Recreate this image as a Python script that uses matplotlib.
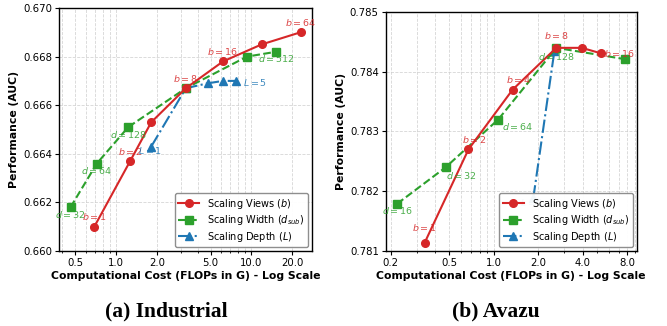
import matplotlib
matplotlib.use("Agg")
import matplotlib.pyplot as plt
from matplotlib.ticker import FixedLocator, FixedFormatter, NullFormatter

# ---------------- data ----------------
ind_views_flops = [0.69, 1.27, 1.82, 3.28, 6.17, 11.9, 23.1]
ind_views_auc = [0.6610, 0.6637, 0.6653, 0.6667, 0.6678, 0.6685, 0.6690]
ind_views_labels = ["$b=1$", "$b=2$", "", "$b=8$", "$b=16$", "", "$b=64$"]

ind_width_flops = [0.46, 0.72, 1.23, 3.28, 9.29, 15.3]
ind_width_auc = [0.6618, 0.6636, 0.6651, 0.6667, 0.6680, 0.6682]
ind_width_labels = ["$d=32$", "$d=64$", "$d=128$", "", "", "$d=512$"]

ind_depth_flops = [1.82, 3.28, 4.75, 6.17, 7.65]
ind_depth_auc = [0.6643, 0.6667, 0.6669, 0.6670, 0.6670]
ind_depth_labels = ["$L=1$", "", "", "", "$L=5$"]

ava_views_flops = [0.34, 0.673, 1.34, 2.65, 3.95, 5.29]
ava_views_auc = [0.78114, 0.7827, 0.7837, 0.7844, 0.7844, 0.78431]
ava_views_labels = ["$b=1$", "$b=2$", "$b=4$", "$b=8$", "", "$b=16$"]

ava_width_flops = [0.221, 0.471, 1.07, 2.65, 7.78]
ava_width_auc = [0.78179, 0.7824, 0.7832, 0.7844, 0.78421]
ava_width_labels = ["$d=16$", "$d=32$", "$d=64$", "$d=128$", ""]

ava_depth_flops = [1.85, 2.57]
ava_depth_auc = [0.78188, 0.78434]
ava_depth_labels = ["$L=1$", ""]

ind_xticks = [0.5, 1, 2, 5, 10, 20]
ind_xticklabels = ["0.5", "1.0", "2.0", "5.0", "10.0", "20.0"]
ind_yticks = [0.660, 0.662, 0.664, 0.666, 0.668, 0.670]
ava_xticks = [0.2, 0.5, 1, 2, 4, 8]
ava_xticklabels = ["0.2", "0.5", "1.0", "2.0", "4.0", "8.0"]
ava_yticks = [0.781, 0.782, 0.783, 0.784, 0.785]

# label offsets in pixels (style, not data)
ind_views_off = [(0, 10)] * 7
ind_width_off = [(0, -7)] * 6
ind_depth_off = [(-1, -4), (0, 0), (0, 0), (0, 0), (19, -2)]
ava_views_off = [(0, 15), (6, 10), (6, 10), (0, 12), (0, 0), (19, 0)]
ava_width_off = [(0, -7), (16, -8), (19, -7), (0, -9), (0, 0)]
ava_depth_off = [(-1, -4), (0, 0)]

RED = "#d62728"
GREEN = "#2ca02c"
BLUE = "#1f77b4"

DPI = 100
fig = plt.figure(figsize=(6.67, 3.26), dpi=DPI)
ax1 = fig.add_axes([59 / 667, 75 / 326, 253 / 667, 243 / 326])
ax2 = fig.add_axes([385.7 / 667, 75 / 326, 251 / 667, 239 / 326])

px2pt = 72.0 / DPI


def annotate(ax, xs, ys, labels, offs, color, z):
    for x, y, t, (dx, dy) in zip(xs, ys, labels, offs):
        if not t:
            continue
        ax.annotate(t, (x, y), xytext=(dx * px2pt, dy * px2pt),
                    textcoords="offset points", ha="center", va="center",
                    fontsize=6.8, color=color, alpha=0.85, zorder=z)


def panel(ax, data, xticks, xticklabels, yticks):
    (vf, va_, vl, vo), (wf, wa, wl, wo), (df, da, dl, do) = data
    ax.plot(vf, va_, "-o", color=RED, lw=1.5, ms=5.5, zorder=5,
            label="Scaling Views ($b$)")
    ax.plot(wf, wa, "--s", color=GREEN, lw=1.5, ms=5.5, zorder=4,
            label="Scaling Width ($d_{sub}$)")
    ax.plot(df, da, "-.^", color=BLUE, lw=1.5, ms=5.5, zorder=3,
            label="Scaling Depth ($L$)")
    annotate(ax, vf, va_, vl, vo, RED, 6)
    annotate(ax, wf, wa, wl, wo, GREEN, 6)
    annotate(ax, df, da, dl, do, BLUE, 6)
    ax.set_xscale("log")
    ax.xaxis.set_major_locator(FixedLocator(xticks))
    ax.xaxis.set_major_formatter(FixedFormatter(xticklabels))
    ax.xaxis.set_minor_formatter(NullFormatter())
    ax.set_yticks(yticks)
    ax.set_yticklabels([f"{v:.3f}" for v in yticks])
    ax.set_ylim(yticks[0], yticks[-1])
    ax.grid(True, which="both", linestyle="--", linewidth=0.6, color="#cccccc", alpha=0.8)
    ax.set_axisbelow(True)
    ax.tick_params(labelsize=7.3, length=3, width=0.8, pad=2)
    ax.tick_params(which="minor", length=1.5, width=0.6)
    for s in ax.spines.values():
        s.set_linewidth(1.0)
    ax.set_xlabel("Computational Cost (FLOPs in G) - Log Scale", fontsize=7.8,
                  fontweight="bold", labelpad=2)
    ax.set_ylabel("Performance (AUC)", fontsize=7.8, fontweight="bold", labelpad=3)
    leg = ax.legend(loc="lower right", fontsize=7, frameon=True, fancybox=True,
                    edgecolor="#888888", framealpha=0.95, handlelength=2.2,
                    borderpad=0.35, labelspacing=0.25, borderaxespad=0.4)
    leg.set_zorder(10)


panel(ax1,
      [(ind_views_flops, ind_views_auc, ind_views_labels, ind_views_off),
       (ind_width_flops, ind_width_auc, ind_width_labels, ind_width_off),
       (ind_depth_flops, ind_depth_auc, ind_depth_labels, ind_depth_off)],
      ind_xticks, ind_xticklabels, ind_yticks)
panel(ax2,
      [(ava_views_flops, ava_views_auc, ava_views_labels, ava_views_off),
       (ava_width_flops, ava_width_auc, ava_width_labels, ava_width_off),
       (ava_depth_flops, ava_depth_auc, ava_depth_labels, ava_depth_off)],
      ava_xticks, ava_xticklabels, ava_yticks)

fig.text(166.5 / 667, 1 - 311.7 / 326, "(a) Industrial", ha="center", va="center",
         fontsize=15.5, fontweight="bold", family="Liberation Serif")
fig.text(496 / 667, 1 - 311.7 / 326, "(b) Avazu", ha="center", va="center",
         fontsize=15.5, fontweight="bold", family="Liberation Serif")

fig.savefig("out.png", dpi=DPI)
